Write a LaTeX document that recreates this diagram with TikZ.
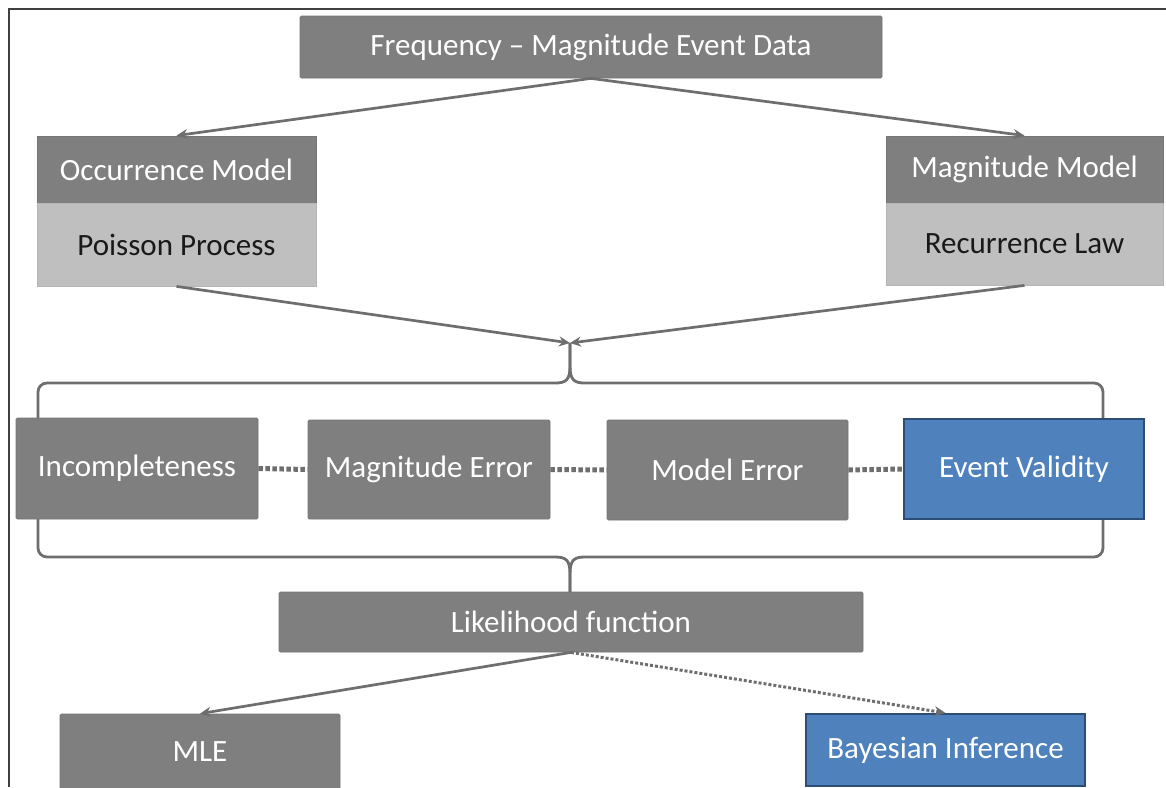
\documentclass[tikz,border=0pt]{standalone}
\usepackage{fontspec}
\setmainfont{Carlito}
\usetikzlibrary{arrows.meta}
\definecolor{dg}{HTML}{7F7F7F}
\definecolor{lg}{HTML}{BFBFBF}
\definecolor{bl}{HTML}{4F81BD}
\definecolor{bld}{HTML}{2C4D75}
\definecolor{ln}{HTML}{6E6E6E}
\definecolor{fr}{HTML}{404040}
\begin{document}
\begin{tikzpicture}[x=1pt,y=-1pt,
  base/.style={rectangle, inner sep=0pt, font=\fontsize{31}{37}\selectfont},
  darkbox/.style={base, rounded corners=1.5pt, fill=dg, draw=dg!92!black, line width=0.8pt, text=white},
  lightbox/.style={base, fill=lg, draw=lg!95!black, line width=0.8pt, text=black!90},
  headbox/.style={base, fill=dg, draw=dg!92!black, line width=0.8pt, text=white},
  bluebox/.style={base, fill=bl, draw=bld, line width=2pt, text=white},
  conn/.style={draw=ln, line width=2.7pt, -{Stealth[length=11pt,width=10pt]}},
  dotconn/.style={draw=ln, line width=3pt, dash pattern=on 3pt off 2pt, -{Stealth[length=11pt,width=10pt]}},
  link/.style={draw=ln, line width=5pt, dash pattern=on 4.5pt off 2.5pt},
  bracestyle/.style={draw=ln, line width=2.8pt},
  framestyle/.style={draw=fr, line width=1.5pt}
]
\useasboundingbox (0,0) rectangle (1166,787);
\draw[framestyle] (9,787) -- (9,9) -- (1166,9);

% braces (behind boxes)
\coordinate (bt) at (570,343);
\coordinate (bb) at (570,592);
\draw[bracestyle, rounded corners=9pt] (38,425) -- (38,383) -- (555,383);
\draw[bracestyle] (555,383) .. controls (566,383) and (570,380) .. (570,366) -- (bt);
\draw[bracestyle] (bt) -- (570,366) .. controls (570,380) and (574,383) .. (585,383);
\draw[bracestyle, rounded corners=9pt] (585,383) -- (1103,383) -- (1103,425);

\draw[bracestyle, rounded corners=9pt] (38,512) -- (38,557) -- (555,557);
\draw[bracestyle] (555,557) .. controls (566,557) and (570,560) .. (570,574) -- (bb);
\draw[bracestyle] (bb) -- (570,574) .. controls (570,560) and (574,557) .. (585,557);
\draw[bracestyle, rounded corners=9pt] (585,557) -- (1103,557) -- (1103,512);

% nodes
\node[darkbox, minimum width=582pt, minimum height=62pt] (top) at (591,47) {Frequency – Magnitude Event Data};
\node[headbox, minimum width=279pt, minimum height=67pt] (occ) at (176.5,169.5) {Occurrence Model};
\node[lightbox, minimum width=279pt, minimum height=83pt] (poi) at (176.5,244.5) {Poisson Process};
\node[headbox, minimum width=277pt, minimum height=67pt] (mag) at (1024.5,169.5) {Magnitude Model};
\node[lightbox, minimum width=277pt, minimum height=82pt] (rec) at (1024.5,244) {Recurrence Law};

\node[darkbox, minimum width=242pt, minimum height=101pt] (inc) at (137,468.5) {Incompleteness};
\node[darkbox, minimum width=242pt, minimum height=99pt] (merr) at (429,469.5) {Magnitude Error};
\node[darkbox, minimum width=241pt, minimum height=100pt] (moderr) at (727.5,470) {Model Error};
\node[bluebox, minimum width=240pt, minimum height=100pt] (ev) at (1024,469) {Event Validity};

\node[darkbox, minimum width=584pt, minimum height=60pt] (lik) at (571,622) {Likelihood function};
\node[darkbox, minimum width=280pt, minimum height=76pt] (mle) at (200,752) {MLE};
\node[bluebox, minimum width=279pt, minimum height=72pt] (bay) at (945.5,750) {Bayesian Inference};

% connectors
\draw[conn] (top.south) -- (occ.north);
\draw[conn] (top.south) -- (mag.north);
\draw[conn] (poi.south) -- (bt);
\draw[conn] (rec.south) -- (bt);
\draw[link] (inc.east) -- (merr.west);
\draw[link] (merr.east) -- (moderr.west);
\draw[link] (moderr.east) -- (ev.west);
\draw[conn] (lik.south) -- (mle.north);
\draw[dotconn] (lik.south) -- (bay.north);
\end{tikzpicture}
\end{document}
